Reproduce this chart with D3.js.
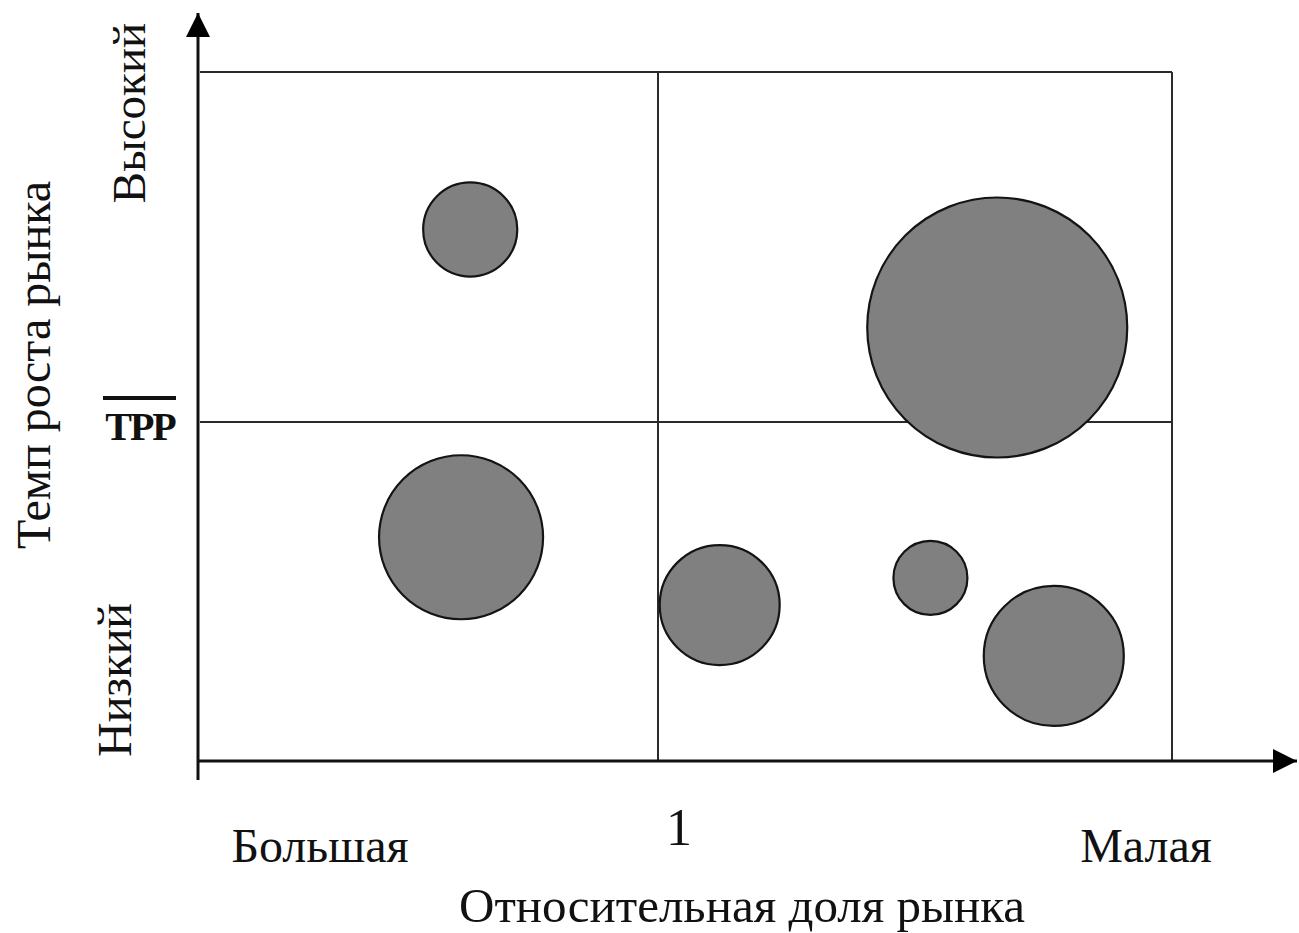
<!DOCTYPE html>
<html>
<head>
<meta charset="utf-8">
<script src="https://cdn.jsdelivr.net/npm/d3@7"></script>
<style>
  body { margin: 0; background: #fff; }
  text { font-family: "Liberation Serif", "Times New Roman", serif; fill: #111; }
</style>
</head>
<body>
<svg id="bcg" width="1299" height="933"></svg>
<script>
// товары: относительная доля рынка, темп роста рынка (%), объём продаж
var products = ["A", "B", "C", "D", "E", "F"];
var shareValues = [1.41, 0.34, 1.43, 0.88, 0.47, 0.23];
var growthValues = [15.5, 12.7, 6.6, 4.6, 5.4, 3.1];
var salesValues = [13.1, 100, 39.8, 21.3, 8.1, 29.0];

var shareTicks = [2, 1, 0];          // Большая - 1 - Малая
var shareLabels = ["Большая", "1", "Малая"];
var growthTicks = [0, 10, 20];       // Низкий - ТРР - Высокий
var growthLabels = ["Низкий", "ТРР", "Высокий"];

var svg = d3.select("#bcg");

var x = d3.scaleLinear().domain(shareTicks).range([200, 658, 1172]);
var y = d3.scaleLinear().domain(growthTicks).range([761, 422, 72]);
var r = d3.scaleSqrt().domain([0, 100]).range([0, 130]);

var data = products.map(function(p, i) {
  return { name: p, share: shareValues[i], growth: growthValues[i], sales: salesValues[i] };
});

// рамка матрицы
var grid = svg.append("g").attr("stroke", "#2a2a2a").attr("stroke-width", 2).attr("fill", "none");
grid.append("line").attr("x1", x(2)).attr("x2", x(0)).attr("y1", y(20)).attr("y2", y(20));
grid.append("line").attr("x1", x(0)).attr("x2", x(0)).attr("y1", y(20)).attr("y2", y(0));
grid.append("line").attr("x1", x(1)).attr("x2", x(1)).attr("y1", y(20)).attr("y2", y(0));
grid.append("line").attr("x1", x(2)).attr("x2", x(0)).attr("y1", y(10)).attr("y2", y(10));

// оси со стрелками
svg.append("defs").append("marker")
  .attr("id", "arrow")
  .attr("viewBox", "0 0 10 10")
  .attr("refX", 10).attr("refY", 5)
  .attr("markerWidth", 9).attr("markerHeight", 8)
  .attr("markerUnits", "strokeWidth")
  .attr("orient", "auto")
  .append("path").attr("d", "M0,0L10,5L0,10z").attr("fill", "#000");

var axes = svg.append("g").attr("stroke", "#111").attr("stroke-width", 3);
axes.append("line")
  .attr("x1", x(2) - 2).attr("x2", x(2) - 2)
  .attr("y1", 780).attr("y2", 13)
  .attr("marker-end", "url(#arrow)");
axes.append("line")
  .attr("x1", x(2) - 2).attr("x2", 1297)
  .attr("y1", y(0)).attr("y2", y(0))
  .attr("marker-end", "url(#arrow)");

// пузыри
svg.append("g").selectAll("circle")
  .data(data)
  .enter()
  .append("circle")
  .attr("cx", function(d) { return x(d.share); })
  .attr("cy", function(d) { return y(d.growth); })
  .attr("r", function(d) { return r(d.sales); })
  .attr("fill", "#808080")
  .attr("stroke", "#141414")
  .attr("stroke-width", 2.2);

// подписи оси X
svg.append("text").attr("x", 320).attr("y", 862).attr("text-anchor", "middle")
  .attr("font-size", 48).text(shareLabels[0]);
svg.append("text").attr("x", x(1) + 21).attr("y", 845).attr("text-anchor", "middle")
  .attr("font-size", 52).text(shareLabels[1]);
svg.append("text").attr("x", 1146).attr("y", 862).attr("text-anchor", "middle")
  .attr("font-size", 48).text(shareLabels[2]);
svg.append("text").attr("x", 742).attr("y", 922).attr("text-anchor", "middle")
  .attr("font-size", 49).text("Относительная доля рынка");

// подписи оси Y
svg.append("text").attr("transform", "translate(145,113) rotate(-90)")
  .attr("text-anchor", "middle").attr("font-size", 47).text(growthLabels[2]);
svg.append("text").attr("transform", "translate(131,680) rotate(-90)")
  .attr("text-anchor", "middle").attr("font-size", 48).text(growthLabels[0]);
svg.append("text").attr("transform", "translate(50,365) rotate(-90)")
  .attr("text-anchor", "middle").attr("font-size", 48).text("Темп роста рынка");

// ТРР с чертой сверху
svg.append("text").attr("x", 140).attr("y", 440).attr("text-anchor", "middle")
  .attr("font-size", 40).attr("font-weight", "bold").attr("letter-spacing", -2)
  .text(growthLabels[1]);
svg.append("rect").attr("x", 103).attr("y", 396).attr("width", 73).attr("height", 4)
  .attr("fill", "#111");
</script>
</body>
</html>
